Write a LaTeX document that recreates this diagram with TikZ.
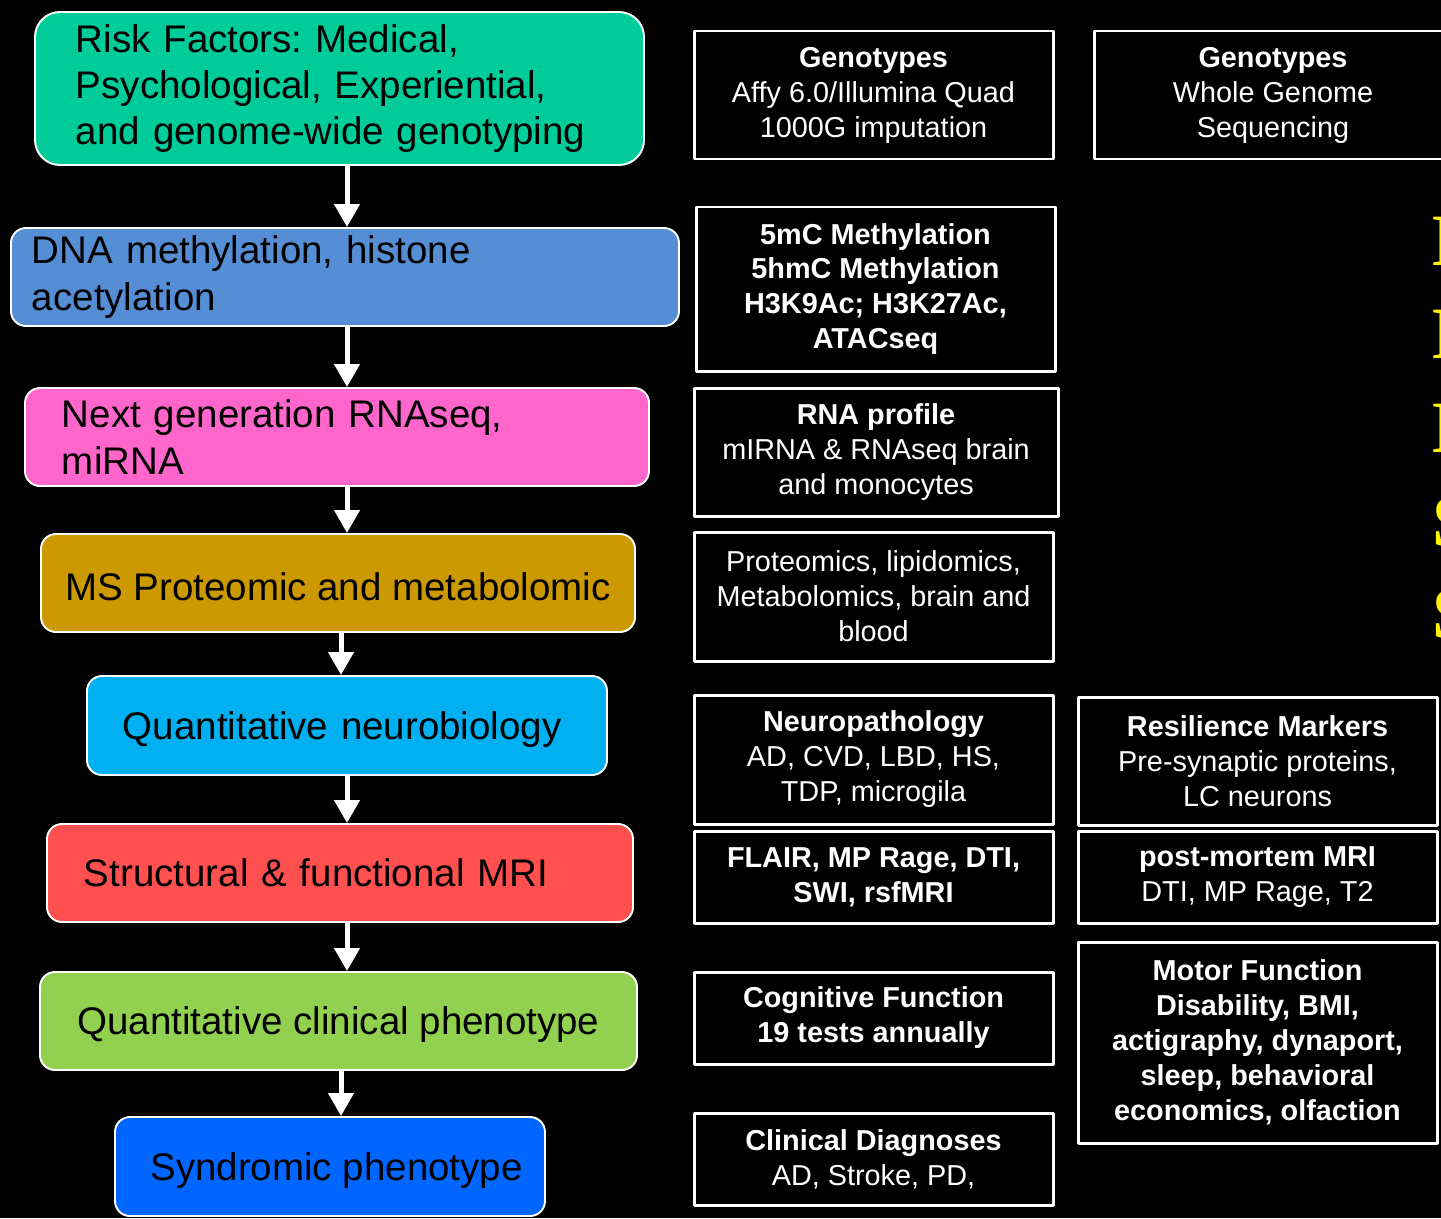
\documentclass[tikz,border=0pt]{standalone}
\usepackage{fontspec}
\setmainfont{Liberation Sans}
\newfontfamily\serifbold{Liberation Serif}
\usetikzlibrary{arrows.meta}
\definecolor{riskc}{HTML}{00CC99}
\definecolor{dnac}{HTML}{558ED5}
\definecolor{rnac}{HTML}{FF66CC}
\definecolor{msc}{HTML}{CC9900}
\definecolor{neuroc}{HTML}{00B0F0}
\definecolor{mric}{HTML}{FF5050}
\definecolor{clinc}{HTML}{92D050}
\definecolor{syndc}{HTML}{0066FF}
\frenchspacing
\begin{document}
\begin{tikzpicture}[x=0.2mm,y=-0.2mm,line join=round,
    stage/.style={draw=white,line width=1.1pt,rounded corners=3mm,minimum height=19.6mm,inner sep=0pt,text=black,font=\fontsize{21.9}{26.3}\selectfont},
    assay/.style={draw=white,line width=1.7pt,inner sep=0pt,minimum width=71.8mm,text=white,align=center,font=\fontsize{16.4}{19.9}\selectfont},
    flow/.style={draw=white,line width=2.85pt,-{Triangle[width=14pt,length=13pt]}},
    hint/.style={text=yellow,anchor=base west,inner sep=0pt,font=\serifbold\bfseries\fontsize{42}{42}\selectfont}]
\clip (0,0) rectangle (1441,1218);
\fill[black] (0,0) rectangle (1441,1218);
% left column: stages
\node[stage,fill=riskc,rounded corners=5mm,minimum height=30.6mm,text width=105.4mm,inner xsep=8.2mm,align=left] (risk) at (339.5,88.5)
  {Risk Factors: Medical,\\Psychological, Experiential,\\and genome-wide genotyping};
\node[stage,fill=dnac,text width=125.2mm,inner xsep=4.2mm,align=left] (dna) at (345,277)
  {DNA methylation, histone\\acetylation};
\node[stage,fill=rnac,text width=110mm,inner xsep=7.4mm,align=left] (rna) at (337,437)
  {Next generation RNAseq,\\miRNA};
\node[stage,fill=msc,minimum width=118.8mm,text height=20pt,text depth=0pt] (ms) at (338,583) {MS Proteomic and metabolomic};
\node[stage,fill=neuroc,minimum height=19.8mm,text width=89.6mm,inner xsep=7.2mm,align=left,text depth=0pt] (neuro) at (347,725.5) {Quantitative neurobiology};
\node[stage,fill=mric,text width=102.4mm,inner xsep=7.4mm,align=left] (mri) at (340,873) {Structural \& functional MRI};
\node[stage,fill=clinc,minimum width=119.4mm,text depth=0pt] (clin) at (338.5,1021) {Quantitative clinical phenotype};
\node[stage,fill=syndc,minimum width=86mm,minimum height=19.8mm,text depth=0pt] (synd) at (330,1166.5) {\hspace*{2.6mm}Syndromic phenotype};
% arrows
\coordinate (axis) at (347,0);
\coordinate (axisb) at (341,0);
\draw[flow] (risk.south -| axis) -- (dna.north -| axis);
\draw[flow] (dna.south -| axis) -- (rna.north -| axis);
\draw[flow] (rna.south -| axis) -- (ms.north -| axis);
\draw[flow] (ms.south -| axisb) -- (neuro.north -| axisb);
\draw[flow] (neuro.south -| axis) -- (mri.north -| axis);
\draw[flow] (mri.south -| axis) -- (clin.north -| axis);
\draw[flow] (clin.south -| axisb) -- (synd.north -| axisb);
% middle column: assays
\node[assay,minimum height=25.6mm] (geno) at (873.5,95)
  {\textbf{Genotypes}\\Affy 6.0/Illumina Quad\\1000G imputation};
\node[assay,minimum height=32.8mm,font=\bfseries\fontsize{16.4}{19.9}\selectfont] (meth) at (875.5,289)
  {5mC Methylation\\5hmC Methylation\\H3K9Ac; H3K27Ac,\\ATACseq};
\node[assay,minimum width=72.8mm,minimum height=25.6mm] (rnap) at (876,452)
  {\textbf{RNA profile}\\mIRNA \& RNAseq brain\\and monocytes};
\node[assay,minimum height=25.8mm] (prot) at (873.5,596.5)
  {Proteomics, lipidomics,\\Metabolomics, brain and\\blood};
\node[assay,minimum height=25.8mm] (npath) at (873.5,759.5)
  {\textbf{Neuropathology}\\AD, CVD, LBD, HS,\\TDP, microgila};
\node[assay,minimum height=18.4mm,font=\bfseries\fontsize{16.4}{19.9}\selectfont] (flair) at (873.5,877)
  {FLAIR, MP Rage, DTI,\\SWI, rsfMRI};
\node[assay,minimum height=18.4mm,font=\bfseries\fontsize{16.4}{19.9}\selectfont] (cog) at (873.5,1018)
  {Cognitive Function\\19 tests annually};
\node[assay,minimum height=18.4mm] (dx) at (873.5,1159)
  {\textbf{Clinical Diagnoses}\\AD, Stroke, PD,};
% right column
\node[assay,minimum width=71.6mm,minimum height=25.6mm] (wgs) at (1273,95)
  {\textbf{Genotypes}\\Whole Genome\\Sequencing};
\node[assay,minimum height=25.6mm] (resil) at (1257.5,761)
  {\textbf{Resilience Markers}\\Pre-synaptic proteins,\\LC neurons};
\node[assay,minimum height=18.4mm] (pmmri) at (1257.5,877)
  {\textbf{post-mortem MRI}\\DTI, MP Rage, T2};
\node[assay,minimum height=40.2mm,font=\bfseries\fontsize{16.4}{19.9}\selectfont] (motor) at (1257.5,1042.5)
  {Motor Function\\Disability, BMI,\\actigraphy, dynaport,\\sleep, behavioral\\economics, olfaction};
% clipped yellow letters at the edge
\node[hint] (h1) at (1432,265) {E};
\node[hint] (h2) at (1432,358) {E};
\node[hint] (h3) at (1432,452) {E};
\node[hint] (h4) at (1432,546) {S};
\node[hint] (h5) at (1432,638) {S};
\end{tikzpicture}
\end{document}
